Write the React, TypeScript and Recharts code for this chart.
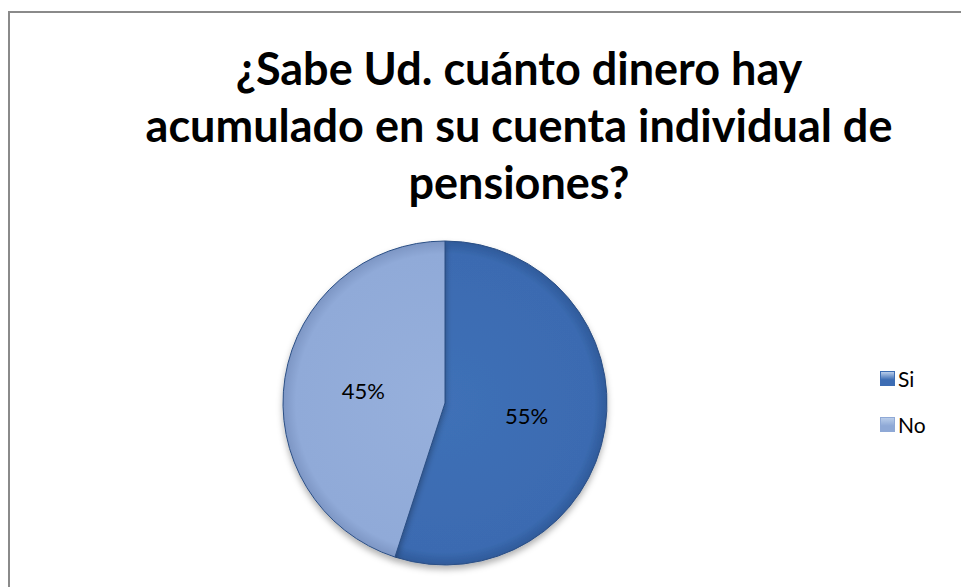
import { Pie, PieChart, Cell, Legend } from "recharts";

const title = ["¿Sabe Ud. cuánto dinero hay", "acumulado en su cuenta individual de", "pensiones?"];
const categories = ["Si", "No"];
const values = [55, 45];
const sliceColors = ["url(#gradSi)", "url(#gradNo)"];
const legendColors = ["#3d6db4", "#8fa9d6"];

const data = categories.map((name, i) => ({ name, value: values[i] }));

const RAD = Math.PI / 180;

function renderLabel(props: any) {
	const { cx, cy, midAngle, outerRadius, value } = props;
	const r = outerRadius * 0.51;
	const x = cx + r * Math.cos(-midAngle * RAD);
	const y = cy + r * Math.sin(-midAngle * RAD);
	return (
		<text x={x} y={y} textAnchor='middle' dominantBaseline='central' fontSize={22} fill='#000' fontFamily='Lato'>
			{value}%
		</text>
	);
}

function LegendBox() {
	return (
		<div style={{ fontFamily: "Lato", fontSize: 21, color: "#000" }}>
			{categories.map((c, i) => (
				<div key={c} style={{ display: "flex", alignItems: "center", height: 46 }}>
					<span
						style={{
							display: "inline-block",
							width: 13,
							height: 13,
							marginRight: 3,
							background: `linear-gradient(180deg, #b9cdea 0%, ${legendColors[i]} 60%)`,
							border: `1px solid ${legendColors[i]}`,
						}}
					/>
					{c}
				</div>
			))}
		</div>
	);
}

export default function App() {
	return (
		<div
			style={{
				position: "absolute",
				left: 0,
				top: 0,
				width: 961,
				height: 587,
				overflow: "hidden",
				background: "#fff",
			}}
		>
			<div
				style={{
					position: "absolute",
					left: 8,
					top: 11,
					width: 1100,
					height: 700,
					borderTop: "2px solid #8a8a8a",
					borderLeft: "2px solid #8a8a8a",
				}}
			/>
			<div
				style={{
					position: "absolute",
					left: 0,
					top: 40,
					width: 1038,
					textAlign: "center",
					fontFamily: "Lato",
					fontWeight: 700,
					fontSize: 45,
					lineHeight: "57px",
					color: "#000",
				}}
			>
				{title.map((t) => (
					<div key={t}>{t}</div>
				))}
			</div>
			<div style={{ position: "absolute", left: 0, top: 0 }}>
				<PieChart width={961} height={587} margin={{ top: 0, right: 0, bottom: 0, left: 0 }}>
					<defs>
						<radialGradient id='gradSi' gradientUnits='userSpaceOnUse' cx={445} cy={403} r={162}>
							<stop offset='0%' stopColor='#3f70b7' />
							<stop offset='92%' stopColor='#3b6bb1' />
							<stop offset='100%' stopColor='#2f5a9a' />
						</radialGradient>
						<radialGradient id='gradNo' gradientUnits='userSpaceOnUse' cx={445} cy={403} r={162}>
							<stop offset='0%' stopColor='#97b0dc' />
							<stop offset='92%' stopColor='#90aad8' />
							<stop offset='100%' stopColor='#7d96c4' />
						</radialGradient>
						<filter id='shadow' x='-20%' y='-20%' width='140%' height='140%'>
							<feDropShadow dx='0' dy='4' stdDeviation='3' floodColor='#000' floodOpacity='0.3' />
						</filter>
					</defs>
					<Pie
						data={data}
						dataKey='value'
						nameKey='name'
						cx={445}
						cy={403}
						outerRadius={162}
						startAngle={90}
						endAngle={-270}
						stroke='#2b4f85'
						strokeWidth={1}
						label={renderLabel}
						labelLine={false}
						isAnimationActive={false}
						style={{ filter: "url(#shadow)" }}
					>
						{data.map((d, i) => (
							<Cell key={d.name} fill={sliceColors[i]} />
						))}
					</Pie>
					<Legend
						layout='vertical'
						verticalAlign='top'
						align='right'
						wrapperStyle={{ left: 880, top: 355, width: 70 }}
						content={() => <LegendBox />}
					/>
				</PieChart>
			</div>
		</div>
	);
}
